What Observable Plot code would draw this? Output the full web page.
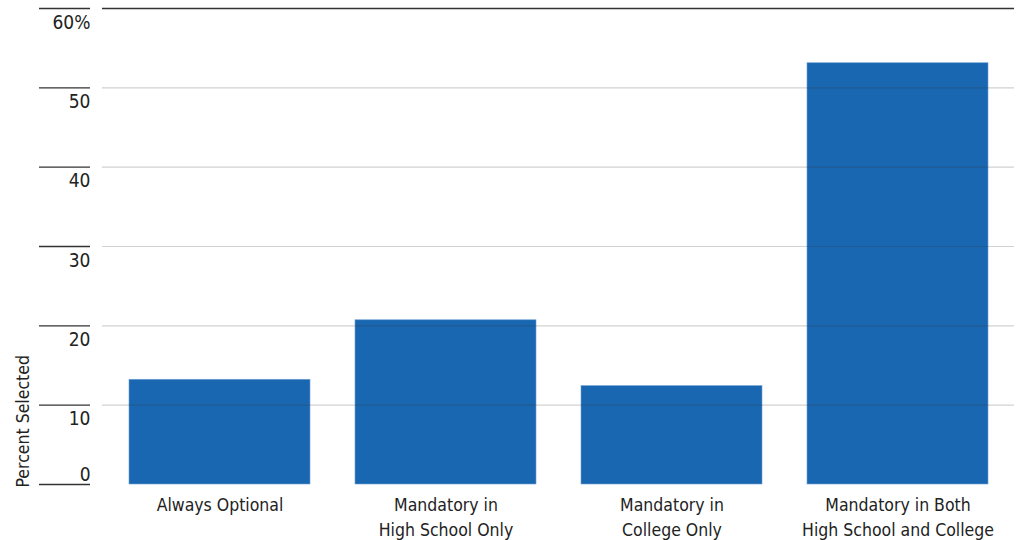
<!DOCTYPE html>
<html>
<head>
<meta charset="utf-8">
<script src="https://cdn.jsdelivr.net/npm/d3@7"></script>
<script src="https://cdn.jsdelivr.net/npm/@observablehq/plot@0.6"></script>
<style>
  html, body { margin: 0; padding: 0; background: #fff; }
  #chart svg { display: block; }
</style>
</head>
<body>
<div id="chart"></div>
<script>
const categories = [
  "Always Optional",
  "Mandatory in\nHigh School Only",
  "Mandatory in\nCollege Only",
  "Mandatory in Both\nHigh School and College"
];
const values = [13.2, 20.7, 12.4, 53.1];
const yTicksAbove = [0];
const yTicksBelow = [10, 20, 30, 40, 50, 60];
const gridTicks = [10, 20, 30, 40, 50];
const yLabel = "Percent Selected";

const data = categories.map((c, i) => ({category: c, value: values[i]}));
const font = "'DejaVu Sans Condensed', 'Liberation Sans Narrow', 'Roboto', sans-serif";

const chart = Plot.plot({
  width: 1019,
  height: 540,
  marginLeft: 102,
  marginRight: 5,
  marginTop: 8,
  marginBottom: 56,
  style: {fontFamily: font, fontSize: "18px", color: "#222", background: "#fff"},
  x: {domain: categories, paddingInner: 0.2, paddingOuter: 0.113, axis: null},
  y: {domain: [0, 60], axis: null},
  marks: [
    Plot.barY(data, {x: "category", y: "value", fill: "#1a67b1", stroke: "#6d9fd3", strokeWidth: 0.6}),
    Plot.ruleY(gridTicks, {stroke: "#333", strokeOpacity: 0.22, strokeWidth: 1.2}),
    Plot.ruleY([60], {stroke: "#333", strokeWidth: 1.4}),
    Plot.axisY({ticks: [...yTicksAbove, ...yTicksBelow], tickSize: 51, dx: -12, tickFormat: () => "", stroke: "#333", strokeWidth: 1.4, label: null}),
    Plot.axisY({ticks: yTicksBelow, tickSize: 0, tickPadding: 0, dx: -12, dy: 14,
      tickFormat: d => d === 60 ? "60%" : String(d), fill: "#222", fontSize: 19, label: null}),
    Plot.axisY({ticks: yTicksAbove, tickSize: 0, tickPadding: 0, dx: -12, dy: -10,
      tickFormat: d => String(d), fill: "#222", fontSize: 19, label: null}),
    Plot.text([yLabel], {frameAnchor: "bottom-left", rotate: -90, textAnchor: "start", dx: -74, dy: 3,
      fill: "#222", fontSize: 17.5}),
    Plot.text(data, {x: "category", text: "category", frameAnchor: "bottom", lineAnchor: "top",
      dy: 8, lineHeight: 1.45, fill: "#222", fontSize: 17.5})
  ]
});
document.getElementById("chart").appendChild(chart);
</script>
</body>
</html>
